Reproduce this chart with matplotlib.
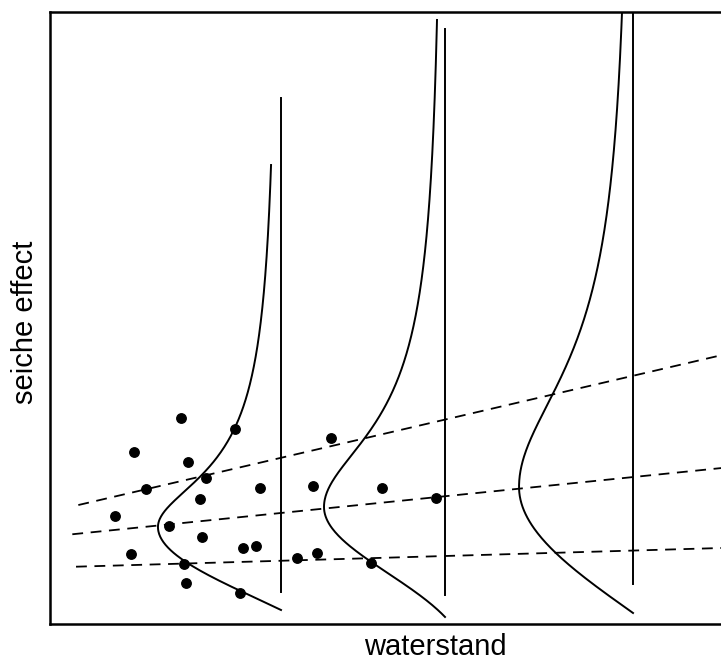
import numpy as np
import matplotlib
matplotlib.use("Agg")
import matplotlib.pyplot as plt

plt.rcParams["font.family"] = ["Liberation Sans", "DejaVu Sans"]

# observations (waterstand, seiche effect)
obs_water = [19.33, 27.32, 12.43, 20.41, 23.03, 14.16, 31.02, 22.14, 9.66, 17.65, 22.53, 11.94,
             28.51, 30.52, 19.87, 20.12, 28.11, 41.57, 38.91, 36.49, 39.50, 49.07, 57.06, 47.49]
obs_seiche = [33.61, 31.86, 28.06, 26.42, 23.81, 22.11, 22.22, 20.47, 17.65, 16.06, 14.26, 11.49,
              12.37, 12.70, 9.85, 6.75, 5.11, 30.44, 22.60, 10.78, 11.65, 22.17, 20.54, 9.92]

# quantile regression lines
q_intercept = [18.36, 14.29, 9.24]
q_slope = [0.2574, 0.1127, 0.032]
q_start = [4.19, 3.30, 3.85]

# conditional distributions at three water levels
dist_x = [34.17, 58.43, 86.24]
dist_line_top = [85.95, 97.2, 100.0]
dist_line_bottom = [5.23, 4.74, 6.54]
dist_mode = [15.85, 19.12, 22.39]
dist_peak = [18.2, 17.9, 16.86]
dist_up_scale = [8.64, 13.2, 21.99]
dist_up_pow = [0.65, 0.75, 0.9]
dist_down_depth = [13.56, 17.97, 20.59]
dist_down_bend = [0.35, 0.83, 0.25]
dist_top = [75.0, 98.7, 100.0]

x_max = 113.9


def side_density(y, mode, up_scale, up_pow, down_depth, down_bend):
    d = y - mode
    up = (1.0 + (np.clip(d, 0, None) / up_scale) ** 2) ** (-up_pow)
    u2 = (np.clip(-d, 0, None) / down_depth) ** 2
    down = np.clip(1.0 - u2, 0, None) * np.exp(-down_bend * u2)
    return np.where(d >= 0, up, down)


fig = plt.figure(figsize=(7.21, 6.62), dpi=100)
ax = fig.add_axes([50 / 721, 38 / 662, 770 / 721, 612 / 662])
ax.set_xlim(0, x_max)
ax.set_ylim(0, 100)

for b0, b1, x0 in zip(q_intercept, q_slope, q_start):
    xs = np.array([x0, x_max])
    ax.plot(xs, b0 + b1 * xs, color="black", lw=1.3, dashes=(6.0, 4.2))

for i in range(len(dist_x)):
    ax.plot([dist_x[i], dist_x[i]], [dist_line_bottom[i], dist_line_top[i]], color="black", lw=1.4)
    ys = np.linspace(dist_mode[i] - dist_down_depth[i], dist_top[i], 500)
    shape = side_density(ys, dist_mode[i], dist_up_scale[i], dist_up_pow[i], dist_down_depth[i], dist_down_bend[i])
    ax.plot(dist_x[i] - dist_peak[i] * shape, ys, color="black", lw=1.4)

ax.plot(obs_water, obs_seiche, "o", color="black", ms=6.8, zorder=5)

ax.set_xticks([])
ax.set_yticks([])
for s in ax.spines.values():
    s.set_linewidth(1.8)

ax.set_xlabel("waterstand", fontsize=21)
ax.xaxis.set_label_coords(0.5, (624 - 655) / 612)
ax.xaxis.label.set_va("baseline")
ax.set_ylabel("seiche effect", fontsize=21)
ax.yaxis.set_label_coords((33 - 50) / 770, (624 - 322) / 612)
ax.yaxis.label.set_rotation_mode("anchor")
ax.yaxis.label.set_va("baseline")
ax.yaxis.label.set_ha("center")

plt.savefig("out.png", dpi=100)
plt.close()
